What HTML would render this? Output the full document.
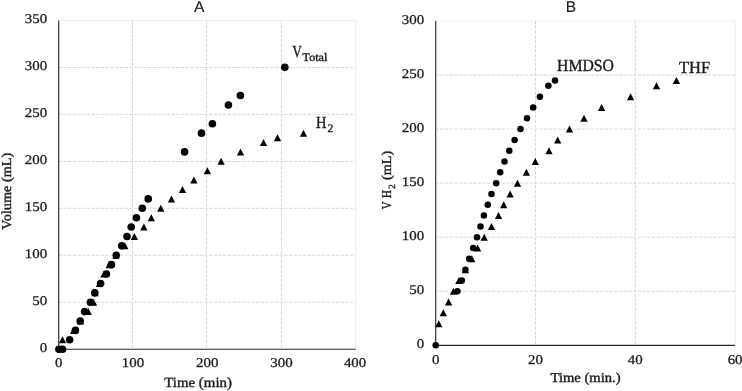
<!DOCTYPE html>
<html lang="en"><head><meta charset="utf-8"><title>Gas evolution plots</title>
<style>
html,body{margin:0;padding:0;background:#fff;}
body{width:742px;height:391px;overflow:hidden;}
svg text{text-rendering:geometricPrecision;fill:#1a1a1a;stroke:#1a1a1a;stroke-width:0.38px;}
.t{font-family:"Liberation Serif",serif;font-size:13.6px;}
.k{font-family:"Liberation Serif",serif;font-size:13.4px;stroke-width:0.28px !important;}
.b{font-family:"Liberation Serif",serif;font-size:17px;}
.sub{font-family:"Liberation Serif",serif;font-size:11.5px;}
.s{font-family:"Liberation Sans",sans-serif;font-size:15.5px;stroke-width:0.1px !important;}
</style></head><body>
<svg width="742" height="391" viewBox="0 0 742 391" style="display:block">
<rect width="742" height="391" fill="#fff"/>
<line x1="58.7" y1="302.23" x2="355.7" y2="302.23" stroke="#d8d8d8" stroke-width="1" stroke-dasharray="3.2 1.5"/>
<line x1="58.7" y1="255.26" x2="355.7" y2="255.26" stroke="#d8d8d8" stroke-width="1" stroke-dasharray="3.2 1.5"/>
<line x1="58.7" y1="208.29" x2="355.7" y2="208.29" stroke="#d8d8d8" stroke-width="1" stroke-dasharray="3.2 1.5"/>
<line x1="58.7" y1="161.5" x2="355.7" y2="161.5" stroke="#d8d8d8" stroke-width="1" stroke-dasharray="3.2 1.5"/>
<line x1="58.7" y1="114.34" x2="355.7" y2="114.34" stroke="#d8d8d8" stroke-width="1" stroke-dasharray="3.2 1.5"/>
<line x1="58.7" y1="67.5" x2="355.7" y2="67.5" stroke="#d8d8d8" stroke-width="1" stroke-dasharray="3.2 1.5"/>
<line x1="58.7" y1="20.45" x2="355.7" y2="20.45" stroke="#efefef" stroke-width="1"/>
<line x1="132.5" y1="20.4" x2="132.5" y2="349.2" stroke="#d8d8d8" stroke-width="1" stroke-dasharray="3.2 1.5"/>
<line x1="206.55" y1="20.4" x2="206.55" y2="349.2" stroke="#d8d8d8" stroke-width="1" stroke-dasharray="3.2 1.5"/>
<line x1="281.45" y1="20.4" x2="281.45" y2="349.2" stroke="#d8d8d8" stroke-width="1" stroke-dasharray="3.2 1.5"/>
<line x1="355.7" y1="20.4" x2="355.7" y2="349.2" stroke="#ebebeb" stroke-width="1"/>
<line x1="58.7" y1="20.4" x2="58.7" y2="349.77" stroke="#2a2a2a" stroke-width="1.15"/>
<line x1="58.13" y1="349.2" x2="355.7" y2="349.2" stroke="#2a2a2a" stroke-width="1.15"/>
<text x="47.2" y="352.15" text-anchor="end" class="k" textLength="7.45" lengthAdjust="spacingAndGlyphs">0</text>
<text x="47.2" y="305.18" text-anchor="end" class="k" textLength="14.9" lengthAdjust="spacingAndGlyphs">50</text>
<text x="47.2" y="258.21" text-anchor="end" class="k" textLength="22.35" lengthAdjust="spacingAndGlyphs">100</text>
<text x="47.2" y="211.24" text-anchor="end" class="k" textLength="22.35" lengthAdjust="spacingAndGlyphs">150</text>
<text x="47.2" y="164.26" text-anchor="end" class="k" textLength="22.35" lengthAdjust="spacingAndGlyphs">200</text>
<text x="47.2" y="117.29" text-anchor="end" class="k" textLength="22.35" lengthAdjust="spacingAndGlyphs">250</text>
<text x="47.2" y="70.32" text-anchor="end" class="k" textLength="22.35" lengthAdjust="spacingAndGlyphs">300</text>
<text x="47.2" y="23.35" text-anchor="end" class="k" textLength="22.35" lengthAdjust="spacingAndGlyphs">350</text>
<text x="58.7" y="367.3" text-anchor="middle" class="k" textLength="7.45" lengthAdjust="spacingAndGlyphs">0</text>
<text x="132.95" y="367.3" text-anchor="middle" class="k" textLength="22.35" lengthAdjust="spacingAndGlyphs">100</text>
<text x="207.2" y="367.3" text-anchor="middle" class="k" textLength="22.35" lengthAdjust="spacingAndGlyphs">200</text>
<text x="281.45" y="367.3" text-anchor="middle" class="k" textLength="22.35" lengthAdjust="spacingAndGlyphs">300</text>
<text x="355.1" y="367.3" text-anchor="middle" class="k" textLength="22.35" lengthAdjust="spacingAndGlyphs">400</text>
<line x1="435.7" y1="291.25" x2="735.1" y2="291.25" stroke="#d8d8d8" stroke-width="1" stroke-dasharray="3.2 1.5"/>
<line x1="435.7" y1="237.2" x2="735.1" y2="237.2" stroke="#d8d8d8" stroke-width="1" stroke-dasharray="3.2 1.5"/>
<line x1="435.7" y1="183.15" x2="735.1" y2="183.15" stroke="#d8d8d8" stroke-width="1" stroke-dasharray="3.2 1.5"/>
<line x1="435.7" y1="129.1" x2="735.1" y2="129.1" stroke="#d8d8d8" stroke-width="1" stroke-dasharray="3.2 1.5"/>
<line x1="435.7" y1="75.05" x2="735.1" y2="75.05" stroke="#d8d8d8" stroke-width="1" stroke-dasharray="3.2 1.5"/>
<line x1="435.7" y1="21" x2="735.1" y2="21" stroke="#efefef" stroke-width="1"/>
<line x1="535.5" y1="21" x2="535.5" y2="345.3" stroke="#d8d8d8" stroke-width="1" stroke-dasharray="3.2 1.5"/>
<line x1="635.3" y1="21" x2="635.3" y2="345.3" stroke="#d8d8d8" stroke-width="1" stroke-dasharray="3.2 1.5"/>
<line x1="735.1" y1="21" x2="735.1" y2="345.3" stroke="#ebebeb" stroke-width="1"/>
<line x1="435.7" y1="21" x2="435.7" y2="345.87" stroke="#2a2a2a" stroke-width="1.15"/>
<line x1="435.13" y1="345.3" x2="735.1" y2="345.3" stroke="#2a2a2a" stroke-width="1.15"/>
<text x="424.2" y="348.25" text-anchor="end" class="k" textLength="7.45" lengthAdjust="spacingAndGlyphs">0</text>
<text x="424.2" y="294.2" text-anchor="end" class="k" textLength="14.9" lengthAdjust="spacingAndGlyphs">50</text>
<text x="424.2" y="240.15" text-anchor="end" class="k" textLength="22.35" lengthAdjust="spacingAndGlyphs">100</text>
<text x="424.2" y="186.1" text-anchor="end" class="k" textLength="22.35" lengthAdjust="spacingAndGlyphs">150</text>
<text x="424.2" y="132.05" text-anchor="end" class="k" textLength="22.35" lengthAdjust="spacingAndGlyphs">200</text>
<text x="424.2" y="78" text-anchor="end" class="k" textLength="22.35" lengthAdjust="spacingAndGlyphs">250</text>
<text x="424.2" y="23.95" text-anchor="end" class="k" textLength="22.35" lengthAdjust="spacingAndGlyphs">300</text>
<text x="435.7" y="363.7" text-anchor="middle" class="k" textLength="7.45" lengthAdjust="spacingAndGlyphs">0</text>
<text x="535.5" y="363.7" text-anchor="middle" class="k" textLength="14.9" lengthAdjust="spacingAndGlyphs">20</text>
<text x="635.3" y="363.7" text-anchor="middle" class="k" textLength="14.9" lengthAdjust="spacingAndGlyphs">40</text>
<text x="735.1" y="363.7" text-anchor="middle" class="k" textLength="14.9" lengthAdjust="spacingAndGlyphs">60</text>
<g fill="#000">
<path d="M62.5 336.31L66.15 343.31H58.85Z"/>
<path d="M73.6 326.91L77.25 333.91H69.95Z"/>
<path d="M80.6 317.52L84.25 324.52H76.95Z"/>
<path d="M88.2 308.12L91.85 315.12H84.55Z"/>
<path d="M93.5 298.73L97.15 305.73H89.85Z"/>
<path d="M95 289.33L98.65 296.33H91.35Z"/>
<path d="M99.5 279.94L103.15 286.94H95.85Z"/>
<path d="M104 270.55L107.65 277.55H100.35Z"/>
<path d="M109.2 261.15L112.85 268.15H105.55Z"/>
<path d="M115.8 251.76L119.45 258.76H112.15Z"/>
<path d="M124.8 242.36L128.45 249.36H121.15Z"/>
<path d="M134.4 232.97L138.05 239.97H130.75Z"/>
<path d="M143.9 223.57L147.55 230.57H140.25Z"/>
<path d="M151.3 214.18L154.95 221.18H147.65Z"/>
<path d="M160.8 204.79L164.45 211.79H157.15Z"/>
<path d="M171.5 195.39L175.15 202.39H167.85Z"/>
<path d="M182.5 186L186.15 193H178.85Z"/>
<path d="M193.9 176.6L197.55 183.6H190.25Z"/>
<path d="M207.4 167.21L211.05 174.21H203.75Z"/>
<path d="M221.1 157.81L224.75 164.81H217.45Z"/>
<path d="M240.5 148.42L244.15 155.42H236.85Z"/>
<path d="M263.5 139.03L267.15 146.03H259.85Z"/>
<path d="M277.5 134.33L281.15 141.33H273.85Z"/>
<path d="M303.5 129.63L307.15 136.63H299.85Z"/>
<circle cx="58.9" cy="349.2" r="3.8"/>
<circle cx="62.5" cy="349.2" r="3.8"/>
<circle cx="69.6" cy="339.81" r="3.8"/>
<circle cx="75.4" cy="330.41" r="3.8"/>
<circle cx="80.2" cy="321.02" r="3.8"/>
<circle cx="84.6" cy="311.62" r="3.8"/>
<circle cx="90.4" cy="302.23" r="3.8"/>
<circle cx="94.8" cy="292.83" r="3.8"/>
<circle cx="100.6" cy="283.44" r="3.8"/>
<circle cx="106.4" cy="274.05" r="3.8"/>
<circle cx="111.4" cy="264.65" r="3.8"/>
<circle cx="116.2" cy="255.26" r="3.8"/>
<circle cx="121.7" cy="245.86" r="3.8"/>
<circle cx="127" cy="236.47" r="3.8"/>
<circle cx="131.2" cy="227.07" r="3.8"/>
<circle cx="136.4" cy="217.68" r="3.8"/>
<circle cx="142.3" cy="208.29" r="3.8"/>
<circle cx="148.2" cy="198.89" r="3.8"/>
<circle cx="184.6" cy="151.92" r="3.8"/>
<circle cx="201.5" cy="133.13" r="3.8"/>
<circle cx="212.4" cy="123.74" r="3.8"/>
<circle cx="228.4" cy="104.95" r="3.8"/>
<circle cx="240.4" cy="95.55" r="3.8"/>
<circle cx="284.8" cy="67.37" r="3.8"/>
<path d="M438.8 320.18L442.45 327.18H435.15Z"/>
<path d="M443.3 309.37L446.95 316.37H439.65Z"/>
<path d="M448.6 298.56L452.25 305.56H444.95Z"/>
<path d="M453.5 287.75L457.15 294.75H449.85Z"/>
<path d="M458.9 276.94L462.55 283.94H455.25Z"/>
<path d="M465.4 266.13L469.05 273.13H461.75Z"/>
<path d="M471.8 255.32L475.45 262.32H468.15Z"/>
<path d="M477.6 244.51L481.25 251.51H473.95Z"/>
<path d="M484.2 233.7L487.85 240.7H480.55Z"/>
<path d="M491.5 222.89L495.15 229.89H487.85Z"/>
<path d="M498.5 212.08L502.15 219.08H494.85Z"/>
<path d="M503.7 201.27L507.35 208.27H500.05Z"/>
<path d="M510.1 190.46L513.75 197.46H506.45Z"/>
<path d="M517.5 179.65L521.15 186.65H513.85Z"/>
<path d="M526.4 168.84L530.05 175.84H522.75Z"/>
<path d="M535.3 158.03L538.95 165.03H531.65Z"/>
<path d="M549 147.22L552.65 154.22H545.35Z"/>
<path d="M557.7 136.41L561.35 143.41H554.05Z"/>
<path d="M569.5 125.6L573.15 132.6H565.85Z"/>
<path d="M584 114.79L587.65 121.79H580.35Z"/>
<path d="M601.6 103.98L605.25 110.98H597.95Z"/>
<path d="M630.6 93.17L634.25 100.17H626.95Z"/>
<path d="M656.5 82.36L660.15 89.36H652.85Z"/>
<path d="M676.4 76.95L680.05 83.95H672.75Z"/>
<circle cx="435.7" cy="345.3" r="3.25"/>
<circle cx="457.4" cy="291.25" r="3.25"/>
<circle cx="461.8" cy="280.44" r="3.25"/>
<circle cx="465.4" cy="269.63" r="3.25"/>
<circle cx="469.1" cy="258.82" r="3.25"/>
<circle cx="473.2" cy="248.01" r="3.25"/>
<circle cx="477" cy="237.2" r="3.25"/>
<circle cx="480.5" cy="226.39" r="3.25"/>
<circle cx="483.9" cy="215.58" r="3.25"/>
<circle cx="487.8" cy="204.77" r="3.25"/>
<circle cx="491.5" cy="193.96" r="3.25"/>
<circle cx="496.2" cy="183.15" r="3.25"/>
<circle cx="500.2" cy="172.34" r="3.25"/>
<circle cx="504.5" cy="161.53" r="3.25"/>
<circle cx="509.3" cy="150.72" r="3.25"/>
<circle cx="514.6" cy="139.91" r="3.25"/>
<circle cx="520.5" cy="129.1" r="3.25"/>
<circle cx="527" cy="118.29" r="3.25"/>
<circle cx="533.2" cy="107.48" r="3.25"/>
<circle cx="539.9" cy="96.67" r="3.25"/>
<circle cx="548.4" cy="85.86" r="3.25"/>
<circle cx="555" cy="80.45" r="3.25"/>
</g>
<text transform="translate(199.2 12) scale(0.975)" text-anchor="middle" class="s" style="font-size:16px">A</text>
<text x="570.8" y="11.5" text-anchor="middle" class="s">B</text>
<text x="164.3" y="387.2" class="t" style="font-size:14px" textLength="67.6" lengthAdjust="spacingAndGlyphs">Time (min)</text>
<text x="550.5" y="382.1" class="t" textLength="70.1" lengthAdjust="spacingAndGlyphs">Time (min.)</text>
<text transform="translate(11.3 229.7) rotate(-90)" class="t" textLength="76.9" lengthAdjust="spacingAndGlyphs">Volume (mL)</text>
<g transform="translate(391.3 209.2) rotate(-90)"><text x="-0.4" y="0" class="t" textLength="8.1" lengthAdjust="spacingAndGlyphs">V</text><text x="11" y="0" class="t" textLength="8.4" lengthAdjust="spacingAndGlyphs">H</text><text x="20.3" y="3.7" class="t" style="font-size:9.5px">2</text><text x="29.2" y="0" class="t" textLength="29.2" lengthAdjust="spacingAndGlyphs">(mL)</text></g>
<text x="292.3" y="57.3" class="b"><tspan textLength="9.7" lengthAdjust="spacingAndGlyphs">V</tspan></text>
<text x="302.6" y="61.2" class="sub" textLength="24.8" lengthAdjust="spacingAndGlyphs">Total</text>
<text x="316.1" y="127.9" class="b" textLength="10.5" lengthAdjust="spacingAndGlyphs">H</text>
<text x="327.5" y="131.7" class="sub">2</text>
<text x="557" y="70.5" class="b" textLength="56.9" lengthAdjust="spacingAndGlyphs">HMDSO</text>
<text x="679" y="72.9" class="b" textLength="31.1" lengthAdjust="spacingAndGlyphs">THF</text>
</svg>
</body></html>
